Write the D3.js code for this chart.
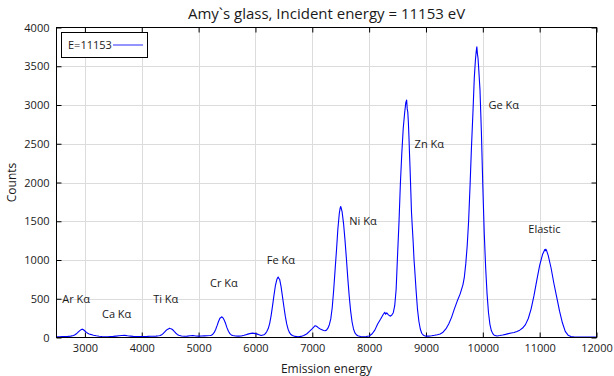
<!DOCTYPE html>
<html>
<head>
<meta charset="utf-8">
<script src="https://cdn.jsdelivr.net/npm/d3@7"></script>
<style>
    body { margin: 0; background: #fff; }
    #chart { width: 614px; height: 376px; }
    text { font-family: "Open Sans", sans-serif; fill: #1a1a1a; }
</style>
</head>
<body>
<div id="chart"></div>
<script>
// spectrum (emission energy in eV, counts)
const energy = [
    2500, 2550, 2600, 2650, 2700, 2750, 2800, 2825, 2850, 2875, 2900, 2925, 2950, 2965, 2975, 3000,
    3025, 3050, 3075, 3100, 3125, 3150, 3200, 3250, 3300, 3350, 3400, 3450, 3500, 3550, 3600, 3650,
    3700, 3750, 3800, 3850, 3900, 3950, 4000, 4050, 4100, 4150, 4200, 4250, 4300, 4325, 4350, 4375,
    4400, 4425, 4450, 4475, 4490, 4500, 4525, 4550, 4575, 4600, 4625, 4650, 4700, 4750, 4800, 4850,
    4900, 4950, 5000, 5050, 5100, 5150, 5200, 5225, 5250, 5275, 5300, 5325, 5350, 5375, 5400, 5410,
    5425, 5450, 5475, 5500, 5525, 5550, 5575, 5600, 5650, 5700, 5750, 5800, 5850, 5900, 5950, 6000,
    6050, 6100, 6150, 6175, 6200, 6225, 6250, 6275, 6300, 6325, 6350, 6375, 6390, 6400, 6410, 6425,
    6450, 6475, 6500, 6525, 6550, 6575, 6600, 6625, 6650, 6700, 6750, 6800, 6850, 6900, 6950, 7000,
    7050, 7075, 7100, 7150, 7200, 7225, 7250, 7275, 7300, 7325, 7350, 7375, 7400, 7425, 7450, 7475,
    7490, 7500, 7510, 7525, 7550, 7575, 7600, 7625, 7650, 7675, 7700, 7725, 7750, 7775, 7800, 7850,
    7900, 7950, 8000, 8050, 8100, 8150, 8200, 8250, 8275, 8290, 8310, 8340, 8370, 8400, 8425, 8450,
    8475, 8500, 8525, 8550, 8575, 8600, 8625, 8645, 8660, 8670, 8680, 8690, 8700, 8710, 8720, 8735,
    8745, 8760, 8775, 8790, 8800, 8825, 8850, 8875, 8900, 8925, 8950, 8975, 9000, 9050, 9100, 9150,
    9200, 9250, 9300, 9350, 9400, 9450, 9500, 9550, 9600, 9650, 9675, 9700, 9725, 9750, 9775, 9800,
    9825, 9850, 9870, 9885, 9895, 9905, 9915, 9925, 9950, 9975, 10000, 10025, 10050, 10075, 10100, 10125,
    10150, 10175, 10200, 10250, 10300, 10350, 10400, 10450, 10500, 10550, 10600, 10650, 10700, 10750, 10800, 10850,
    10900, 10950, 11000, 11050, 11075, 11090, 11100, 11110, 11125, 11150, 11200, 11250, 11300, 11350, 11400, 11450,
    11500, 11550, 11600, 11700, 11800, 11900, 12000
];
const counts = [
    8, 10, 12, 12, 14, 18, 25, 35, 48, 65, 83, 98, 108, 104, 100, 84,
    66, 54, 45, 40, 36, 30, 22, 16, 12, 10, 10, 12, 14, 18, 22, 25,
    27, 22, 18, 14, 12, 11, 12, 13, 14, 16, 17, 18, 22, 26, 35, 50,
    68, 88, 104, 113, 118, 115, 110, 96, 75, 55, 40, 30, 20, 16, 18, 22,
    25, 20, 18, 20, 21, 22, 25, 30, 42, 65, 103, 153, 207, 248, 262, 267,
    257, 225, 180, 124, 80, 50, 33, 25, 20, 18, 20, 28, 40, 50, 56, 50,
    40, 26, 36, 50, 78, 115, 180, 280, 405, 540, 665, 745, 770, 780, 764, 752,
    660, 530, 400, 275, 175, 105, 62, 38, 25, 14, 10, 14, 25, 45, 80, 115,
    152, 145, 130, 105, 90, 88, 95, 120, 165, 240, 380, 600, 860, 1120, 1400, 1600,
    1670, 1690, 1665, 1620, 1470, 1260, 1020, 760, 530, 340, 200, 110, 60, 35, 22, 12,
    10, 13, 20, 45, 95, 175, 235, 300, 325, 300, 318, 292, 275, 290, 320, 410,
    620, 1060, 1480, 1990, 2380, 2700, 2900, 3030, 3065, 2950, 2910, 2780, 2600, 2380, 2180, 1850,
    1620, 1420, 1230, 1000, 900, 620, 370, 210, 110, 55, 32, 22, 18, 18, 22, 28,
    36, 45, 68, 110, 175, 260, 370, 470, 560, 680, 780, 950, 1180, 1500, 1950, 2450,
    2880, 3350, 3580, 3700, 3750, 3660, 3610, 3500, 3200, 2650, 1950, 1350, 900, 560, 320, 170,
    90, 50, 30, 20, 25, 32, 40, 50, 58, 65, 78, 95, 122, 166, 245, 370,
    540, 740, 930, 1070, 1110, 1135, 1120, 1140, 1115, 1060, 900, 700, 520, 340, 190, 80,
    30, 12, 8, 6, 5, 5, 6
];

const xTicks = [3000, 4000, 5000, 6000, 7000, 8000, 9000, 10000, 11000, 12000];
const yTicks = [0, 500, 1000, 1500, 2000, 2500, 3000, 3500, 4000];

// peak annotations
const peakNames = ["Ar K\u03b1", "Ca K\u03b1", "Ti K\u03b1", "Cr K\u03b1", "Fe K\u03b1", "Ni K\u03b1", "Zn K\u03b1", "Ge K\u03b1", "Elastic"];
const peakLabelX = [2600, 3300, 4200, 5200, 6200, 7650, 8800, 10100, 10800];
const peakLabelY = [500, 300, 500, 700, 1000, 1500, 2500, 3000, 1400];

const chartTitle = "Amy`s glass, Incident energy = 11153 eV";
const seriesName = "E=11153";

class SpectrumVis {
    constructor(parentElement) {
        this.parentElement = parentElement;
        this.displayData = [];
        this.initVis();
    }

    initVis() {
        let vis = this;

        vis.width = 614;
        vis.height = 376;
        vis.margin = { top: 27.5, right: 17.5, bottom: 38.5, left: 56.5 };

        vis.svg = d3.select("#" + vis.parentElement)
            .append("svg")
            .attr("width", vis.width)
            .attr("height", vis.height);

        vis.x = d3.scaleLinear()
            .domain([2500, 12000])
            .range([vis.margin.left, vis.width - vis.margin.right]);
        vis.y = d3.scaleLinear()
            .domain([0, 4000])
            .range([vis.height - vis.margin.bottom, vis.margin.top]);

        vis.wrangleData();
    }

    wrangleData() {
        let vis = this;
        vis.displayData = energy.map((e, i) => ({ e: e, c: counts[i] }));
        vis.updateVis();
    }

    updateVis() {
        let vis = this;
        let x0 = vis.x.range()[0], x1 = vis.x.range()[1];
        let y0 = vis.y.range()[0], y1 = vis.y.range()[1];

        // grid
        let grid = vis.svg.append("g").attr("class", "grid")
            .attr("stroke", "#dcdcdc").attr("stroke-width", 1);
        grid.selectAll(".vg").data(xTicks.filter(d => d < 12000)).enter()
            .append("line")
            .attr("x1", d => Math.round(vis.x(d)) + 0.5).attr("x2", d => Math.round(vis.x(d)) + 0.5)
            .attr("y1", y0).attr("y2", y1);
        grid.selectAll(".hg").data(yTicks.filter(d => d > 0 && d < 4000)).enter()
            .append("line")
            .attr("x1", x0).attr("x2", x1)
            .attr("y1", d => Math.round(vis.y(d)) + 0.5).attr("y2", d => Math.round(vis.y(d)) + 0.5);

        // axes with inward ticks (mirrored on top and right)
        let fmt = d3.format("d");
        let xAxis = vis.svg.append("g")
            .attr("transform", `translate(0, ${y0})`)
            .call(d3.axisBottom(vis.x).tickValues(xTicks).tickSize(-5).tickPadding(7).tickFormat(fmt));
        let yAxis = vis.svg.append("g")
            .attr("transform", `translate(${x0}, 0)`)
            .call(d3.axisLeft(vis.y).tickValues(yTicks).tickSize(-5).tickPadding(7).tickFormat(fmt));
        vis.svg.append("g")
            .attr("transform", `translate(0, ${y1})`)
            .call(d3.axisTop(vis.x).tickValues(xTicks).tickSize(-5).tickFormat(""));
        vis.svg.append("g")
            .attr("transform", `translate(${x1}, 0)`)
            .call(d3.axisRight(vis.y).tickValues(yTicks).tickSize(-5).tickFormat(""));

        vis.svg.selectAll(".domain").remove();
        vis.svg.selectAll(".tick line").attr("stroke", "#000");
        [xAxis, yAxis].forEach(a => a.selectAll("text")
            .attr("font-size", "11px")
            .attr("font-family", "Open Sans, sans-serif")
            .attr("fill", "#1a1a1a"));

        // spectrum
        let line = d3.line()
            .x(d => vis.x(d.e))
            .y(d => vis.y(d.c));
        vis.svg.append("path")
            .datum(vis.displayData)
            .attr("d", line)
            .attr("fill", "none")
            .attr("stroke", "#0000ff")
            .attr("stroke-width", 1.1)
            .attr("stroke-linejoin", "round");

        // border
        vis.svg.append("rect")
            .attr("x", x0).attr("y", y1)
            .attr("width", x1 - x0).attr("height", y0 - y1)
            .attr("fill", "none").attr("stroke", "#000").attr("stroke-width", 1);

        // peak labels
        vis.svg.append("g").selectAll("text")
            .data(peakNames).enter()
            .append("text")
            .attr("x", (d, i) => vis.x(peakLabelX[i]))
            .attr("y", (d, i) => vis.y(peakLabelY[i]))
            .attr("dy", "0.35em")
            .attr("font-size", "11px")
            .text(d => d);

        // legend
        let legend = vis.svg.append("g");
        legend.append("rect")
            .attr("x", 61.5).attr("y", 32.5).attr("width", 86).attr("height", 25)
            .attr("fill", "#fff").attr("stroke", "#000");
        legend.append("text")
            .attr("x", 68).attr("y", 45).attr("dy", "0.35em")
            .attr("font-size", "11px")
            .text(seriesName);
        legend.append("line")
            .attr("x1", 113).attr("x2", 143).attr("y1", 45).attr("y2", 45)
            .attr("stroke", "#7070ff").attr("stroke-width", 1.5);

        // titles
        vis.svg.append("text")
            .attr("x", (x0 + x1) / 2).attr("y", 14).attr("dy", "0.35em")
            .attr("text-anchor", "middle")
            .attr("font-size", "15px")
            .text(chartTitle);
        vis.svg.append("text")
            .attr("x", (x0 + x1) / 2).attr("y", 369).attr("dy", "0.35em")
            .attr("text-anchor", "middle")
            .attr("font-size", "12px")
            .text("Emission energy");
        vis.svg.append("text")
            .attr("transform", `translate(12, ${(y0 + y1) / 2}) rotate(-90)`)
            .attr("dy", "0.35em")
            .attr("text-anchor", "middle")
            .attr("font-size", "12px")
            .text("Counts");
    }
}

new SpectrumVis("chart");
</script>
</body>
</html>
